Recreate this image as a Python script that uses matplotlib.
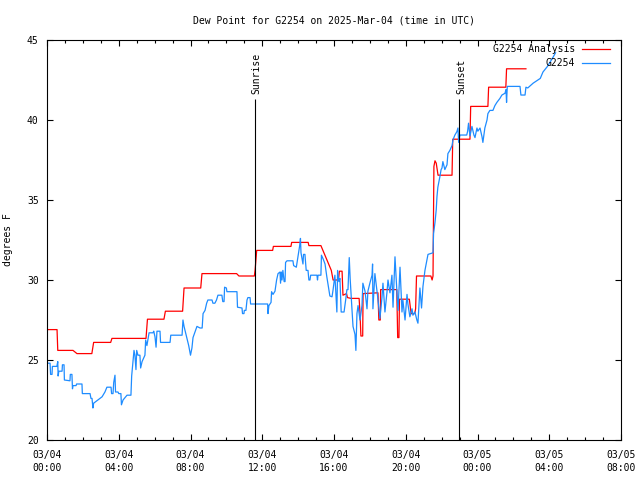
import matplotlib
matplotlib.use('Agg')
import matplotlib.pyplot as plt
from matplotlib.ticker import MultipleLocator

plt.rcParams['font.family'] = 'DejaVu Sans Mono'
plt.rcParams['font.size'] = 7

# hours since 2025-03-04 00:00 UTC, dew point in degrees F
anaT = [0.0, 0.56, 0.6, 1.45, 1.67, 2.5, 2.6, 3.55, 3.62, 5.52, 5.6, 6.52, 6.6,
        7.56, 7.64, 8.57, 8.64, 10.57, 10.7, 11.56, 11.6, 11.69, 12.58, 12.62,
        13.6, 13.64, 14.56, 14.6, 15.27, 15.85, 15.95, 16.25, 16.3, 16.45, 16.5,
        16.7, 16.75, 16.95, 17.4, 17.45, 17.5, 17.6, 17.62, 18.45, 18.5, 18.58,
        18.6, 19.5, 19.55, 19.62, 19.65, 20.2, 20.3, 20.5, 20.55, 20.6, 21.4,
        21.47, 21.52, 21.57, 21.63, 21.7, 21.8, 22.58, 22.62, 23.58, 23.62,
        24.58, 24.62, 25.58, 25.62, 26.7]
anaV = [26.9, 26.9, 25.6, 25.6, 25.4, 25.4, 26.1, 26.1, 26.35, 26.35, 27.55,
        27.55, 28.05, 28.05, 29.5, 29.5, 30.4, 30.4, 30.25, 30.25, 30.6, 31.85,
        31.85, 32.1, 32.1, 32.35, 32.35, 32.15, 32.15, 30.6, 30.0, 30.0, 30.55,
        30.55, 29.05, 29.15, 28.9, 28.85, 28.85, 27.9, 26.5, 26.5, 29.15, 29.2,
        27.5, 27.5, 29.4, 29.4, 26.4, 26.4, 28.8, 28.8, 27.9, 27.9, 28.2, 30.25,
        30.25, 30.0, 30.25, 37.1, 37.45, 37.3, 36.55, 36.55, 38.8, 38.8, 40.85,
        40.85, 42.05, 42.05, 43.2, 43.2]

obsT = [0.0, 0.17, 0.2, 0.28, 0.3, 0.55, 0.6, 0.62, 0.66, 0.84, 0.86, 0.95,
        0.97, 1.28, 1.3, 1.39, 1.42, 1.45, 1.62, 1.65, 1.95, 1.97, 2.4, 2.45,
        2.51, 2.56, 2.6, 2.84, 3.07, 3.23, 3.34, 3.57, 3.6, 3.68, 3.72, 3.79,
        3.82, 3.96, 4.0, 4.12, 4.15, 4.24, 4.46, 4.68, 4.72, 4.79, 4.85, 4.9,
        4.96, 5.0, 5.07, 5.18, 5.22, 5.3, 5.46, 5.5, 5.57, 5.69, 5.91, 5.95,
        6.02, 6.08, 6.13, 6.3, 6.33, 6.86, 6.9, 7.53, 7.58, 7.64, 7.75, 7.8,
        7.9, 8.0, 8.08, 8.14, 8.3, 8.36, 8.53, 8.65, 8.7, 8.81, 8.9, 8.97, 9.2,
        9.25, 9.36, 9.45, 9.53, 9.75, 9.8, 9.87, 9.9, 10.0, 10.03, 10.59, 10.62,
        10.87, 10.9, 10.98, 11.0, 11.09, 11.15, 11.2, 11.32, 11.35, 12.3, 12.32,
        12.37, 12.49, 12.52, 12.6, 12.71, 12.8, 12.88, 12.99, 13.02, 13.06,
        13.1, 13.15, 13.22, 13.27, 13.3, 13.38, 13.71, 13.75, 13.9, 13.94,
        13.99, 14.08, 14.13, 14.16, 14.27, 14.3, 14.38, 14.45, 14.55, 14.6,
        14.66, 14.7, 15.05, 15.08, 15.11, 15.27, 15.3, 15.4, 15.5, 15.6, 15.7,
        15.77, 15.89, 15.95, 16.05, 16.1, 16.16, 16.2, 16.27, 16.33, 16.4,
        16.56, 16.65, 16.72, 16.78, 16.85, 16.9, 16.95, 17.0, 17.06, 17.17,
        17.22, 17.28, 17.34, 17.45, 17.56, 17.61, 17.73, 17.84, 17.89, 18.0,
        18.12, 18.15, 18.17, 18.28, 18.39, 18.45, 18.56, 18.67, 18.73, 18.84,
        18.95, 19.01, 19.12, 19.23, 19.29, 19.4, 19.51, 19.57, 19.68, 19.79,
        19.84, 19.96, 20.07, 20.12, 20.23, 20.35, 20.4, 20.51, 20.62, 20.68,
        20.79, 20.88, 20.96, 21.07, 21.24, 21.52, 21.55, 21.63, 21.7, 21.74,
        21.79, 21.91, 21.97, 22.02, 22.07, 22.18, 22.3, 22.35, 22.46, 22.58,
        22.63, 22.74, 22.85, 22.91, 22.95, 23.02, 23.4, 23.45, 23.5, 23.58,
        23.69, 23.75, 23.8, 23.86, 23.97, 24.02, 24.14, 24.25, 24.3, 24.41,
        24.53, 24.58, 24.69, 24.86, 24.97, 25.08, 25.25, 25.36, 25.53, 25.59,
        25.62, 25.66, 26.37, 26.42, 26.65, 26.7, 26.8, 27.1, 27.5, 27.65, 27.9,
        28.2, 28.35]
obsV = [24.8, 24.8, 24.1, 24.1, 24.6, 24.6, 24.9, 24.0, 24.3, 24.3, 24.7, 24.7,
        23.75, 23.7, 24.1, 24.1, 23.2, 23.4, 23.4, 23.5, 23.5, 22.9, 22.9, 22.6,
        22.6, 22.0, 22.3, 22.5, 22.7, 23.0, 23.3, 23.3, 22.9, 22.9, 23.6, 24.05,
        23.0, 23.0, 22.9, 22.9, 22.2, 22.5, 22.8, 22.8, 24.0, 24.9, 25.6, 25.3,
        24.4, 25.6, 25.3, 25.3, 24.5, 24.9, 25.3, 26.25, 25.9, 26.7, 26.7, 26.8,
        26.45, 25.8, 26.8, 26.8, 26.1, 26.1, 26.55, 26.55, 27.5, 27.1, 26.6,
        26.4, 25.9, 25.3, 25.75, 26.4, 26.9, 27.1, 27.0, 27.0, 27.9, 28.1,
        28.55, 28.75, 28.75, 28.55, 28.55, 28.75, 29.05, 29.05, 28.65, 28.65,
        29.55, 29.5, 29.27, 29.27, 28.3, 28.25, 27.9, 27.9, 28.1, 28.1, 28.75,
        28.9, 28.9, 28.5, 28.5, 27.9, 28.4, 28.6, 29.27, 29.1, 29.3, 30.0, 30.4,
        30.5, 29.8, 30.5, 30.0, 30.6, 29.9, 29.9, 31.1, 31.2, 31.2, 30.9, 30.8,
        31.1, 31.45, 32.1, 32.6, 31.7, 31.0, 31.6, 31.6, 30.6, 30.6, 30.0, 30.0,
        30.3, 30.3, 30.0, 30.3, 30.3, 31.55, 31.3, 31.0, 30.2, 29.5, 29.0,
        28.95, 29.4, 30.3, 29.2, 28.0, 30.6, 29.9, 30.1, 28.0, 28.0, 28.75,
        29.4, 29.4, 31.4, 30.1, 29.2, 28.2, 27.1, 26.6, 25.6, 27.9, 28.4, 27.5,
        28.4, 29.8, 29.3, 28.2, 29.3, 29.8, 30.3, 31.0, 28.2, 30.4, 29.4, 28.8,
        27.6, 28.85, 29.8, 28.0, 29.2, 30.0, 29.2, 30.3, 28.3, 31.45, 29.2,
        28.1, 30.8, 28.0, 28.75, 27.5, 29.1, 28.5, 27.7, 28.2, 27.8, 28.0, 27.5,
        27.3, 29.5, 28.25, 29.6, 30.6, 31.6, 31.7, 32.9, 33.6, 34.4, 35.2, 35.8,
        36.5, 36.9, 37.0, 37.4, 36.9, 37.2, 37.9, 38.1, 38.4, 38.75, 39.06,
        39.27, 39.5, 38.6, 39.06, 39.06, 39.3, 39.8, 39.0, 39.6, 39.3, 39.06,
        38.9, 39.5, 39.3, 39.5, 38.96, 38.6, 39.5, 40.0, 40.4, 40.6, 40.6, 40.9,
        41.1, 41.35, 41.56, 41.67, 41.9, 41.1, 42.1, 42.1, 41.56, 41.56, 42.05,
        42.0, 42.3, 42.6, 43.0, 43.35, 43.9, 44.2]

sunrise = 11.59
sunset = 22.98
xticks = [0, 4, 8, 12, 16, 20, 24, 28, 32]
xlabels = ['03/04\n00:00', '03/04\n04:00', '03/04\n08:00', '03/04\n12:00',
           '03/04\n16:00', '03/04\n20:00', '03/05\n00:00', '03/05\n04:00',
           '03/05\n08:00']

fig = plt.figure(figsize=(6.4, 4.8), dpi=100)
ax = fig.add_axes([47/640, 40/480, 574/640, 400/480])

ax.plot(anaT, anaV, color='#ff0000', lw=0.9, label='G2254 Analysis')
ax.plot(obsT, obsV, color='#1e8cff', lw=0.9, label='G2254')

ax.vlines([sunrise, sunset], 20, 41.3, color='black', lw=0.8)
ax.text(sunrise + 0.1, 41.65, 'Sunrise', rotation=90, ha='center', va='bottom')
ax.text(sunset + 0.1, 41.65, 'Sunset', rotation=90, ha='center', va='bottom')

ax.set_xlim(0, 32)
ax.set_ylim(20, 45)
ax.set_xticks(xticks)
ax.set_xticklabels(xlabels, linespacing=1.35)
ax.xaxis.set_minor_locator(MultipleLocator(1))
ax.set_yticks([20, 25, 30, 35, 40, 45])
ax.tick_params(which='both', direction='in', top=True, right=True, width=0.8)
ax.tick_params(which='major', length=4.5)
ax.tick_params(which='minor', length=2.5)
ax.tick_params(axis='x', pad=7)
ax.tick_params(axis='y', pad=6)
for s in ax.spines.values():
    s.set_linewidth(0.8)

ax.set_ylabel('degrees F', labelpad=10)
ax.set_title('Dew Point for G2254 on 2025-Mar-04 (time in UTC)', fontsize=7,
             pad=12)
ax.legend(loc='upper right', bbox_to_anchor=(0.984, 0.995), frameon=False,
          markerfirst=False, handlelength=2.9, handletextpad=0.7,
          labelspacing=0.45, borderaxespad=0, borderpad=0.2)

plt.savefig('out.png', dpi=100)
